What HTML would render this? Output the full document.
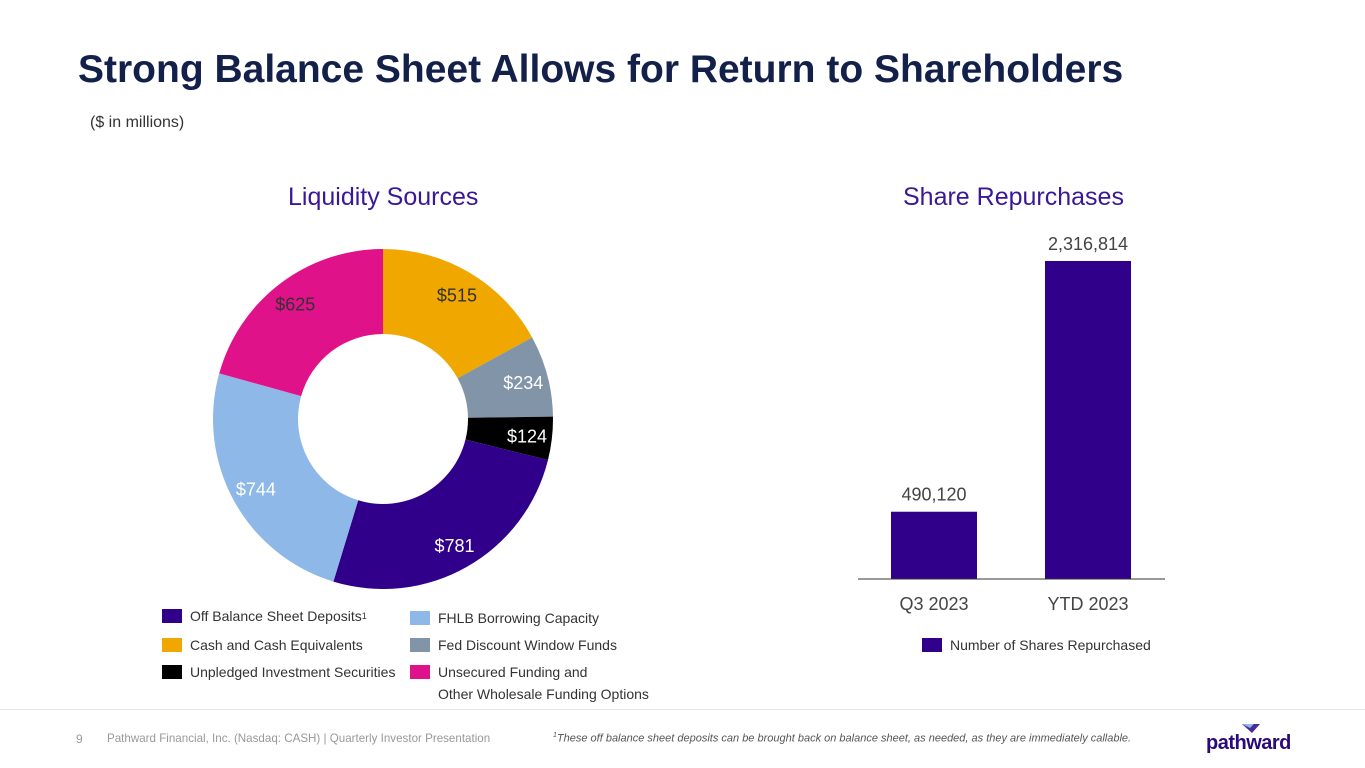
<!DOCTYPE html>
<html><head><meta charset="utf-8"><style>
body{margin:0;width:1365px;height:768px;background:#fff;font-family:"Liberation Sans",sans-serif;overflow:hidden;position:relative}
.a{position:absolute}
.leg{position:absolute;font-size:14px;color:#333;display:flex;align-items:center}
.sw{width:20px;height:14px;margin-right:8px;display:inline-block}
</style></head><body>
<div class="a" style="left:78px;top:48px;font-size:39px;font-weight:bold;color:#13204a">Strong Balance Sheet Allows for Return to Shareholders</div>
<div class="a" style="left:90px;top:114px;font-size:16px;color:#333">($ in millions)</div>
<div class="a" style="left:288px;top:183px;font-size:25px;color:#3a1796">Liquidity Sources</div>
<div class="a" style="left:903px;top:183px;font-size:25px;color:#3a1796">Share Repurchases</div>
<svg class="a" style="left:0;top:0" width="1365" height="768" id="chart"></svg>
<div class="leg" style="left:162px;top:608px"><span class="sw" style="background:#31008a"></span>Off Balance Sheet Deposits<sup style="font-size:9px;vertical-align:6px">1</sup></div>
<div class="leg" style="left:410px;top:610px"><span class="sw" style="background:#8db8e8"></span>FHLB Borrowing Capacity</div>
<div class="leg" style="left:162px;top:637px"><span class="sw" style="background:#f0a800"></span>Cash and Cash Equivalents</div>
<div class="leg" style="left:410px;top:637px"><span class="sw" style="background:#8294a8"></span>Fed Discount Window Funds</div>
<div class="leg" style="left:162px;top:664px"><span class="sw" style="background:#000"></span>Unpledged Investment Securities</div>
<div class="leg" style="left:410px;top:664px;align-items:flex-start"><span class="sw" style="background:#e0128a;margin-top:1px"></span><span style="line-height:22px;margin-top:-3px">Unsecured Funding and<br>Other Wholesale Funding Options</span></div>
<div class="leg" style="left:922px;top:637px"><span class="sw" style="background:#31008a"></span>Number of Shares Repurchased</div>
<div class="a" style="left:0;top:709px;width:1365px;height:1px;background:#e4e4e4"></div>
<div class="a" style="left:76px;top:732px;font-size:12px;color:#999">9</div>
<div class="a" style="left:107px;top:732px;font-size:11.6px;color:#999">Pathward Financial, Inc. (Nasdaq: CASH) | Quarterly Investor Presentation</div>
<div class="a" style="left:553px;top:732px;font-size:11px;color:#555;font-style:italic"><sup style="font-size:7px">1</sup>These off balance sheet deposits can be brought back on balance sheet, as needed, as they are immediately callable.</div>
<div class="a" style="left:1206px;top:732px;font-size:20px;font-weight:bold;color:#2a0a7a;letter-spacing:-0.5px">pathward</div>
<svg class="a" style="left:1240px;top:723px" width="22" height="12"><polygon points="2,1 20,1 12,10" fill="#4a2a9a"/><polygon points="2,1 14,1 10,5" fill="#8db8e8"/></svg>
<script>
const sliceLabels=["$515","$234","$124","$781","$744","$625"];
const sliceValues=[515,234,124,781,744,625];
const sliceColors=["#f0a800","#8294a8","#000000","#31008a","#8db8e8","#e0128a"];
const labelColors=["#333","#fff","#fff","#fff","#fff","#333"];
const barCats=["Q3 2023","YTD 2023"];
const barValues=[490120,2316814];
const ns="http://www.w3.org/2000/svg";
const svg=document.getElementById("chart");
function mk(t,a){const e=document.createElementNS(ns,t);for(const k in a)e.setAttribute(k,a[k]);svg.appendChild(e);return e;}
const cx=383,cy=419,R=170,r=85;
const tot=sliceValues.reduce((a,b)=>a+b,0);
let ang=0;
function pt(a,rad){return [cx+rad*Math.sin(a),cy-rad*Math.cos(a)];}
sliceValues.forEach((v,i)=>{
 const a0=ang,a1=ang+v/tot*2*Math.PI;ang=a1;
 const lg=(a1-a0)>Math.PI?1:0;
 const [x0,y0]=pt(a0,R),[x1,y1]=pt(a1,R),[x2,y2]=pt(a1,r),[x3,y3]=pt(a0,r);
 const p=mk("path",{d:`M${x0},${y0}A${R},${R} 0 ${lg} 1 ${x1},${y1}L${x2},${y2}A${r},${r} 0 ${lg} 0 ${x3},${y3}Z`,fill:sliceColors[i]});
 
 
 const [lx,ly]=pt((a0+a1)/2,145);
 const t=mk("text",{x:lx,y:ly+7,"text-anchor":"middle","font-size":18,fill:labelColors[i]});
 t.textContent=sliceLabels[i];
 
 
});
const base=579,top0=261,maxV=2316814;
const yS=v=>base-(v/maxV)*(base-top0);
const xC=[934,1088],bw=86;
barValues.forEach((v,i)=>{
 const b=mk("rect",{x:xC[i]-bw/2,y:yS(v),width:bw,height:base-yS(v),fill:"#31008a"});
 
 
 const t=mk("text",{x:xC[i],y:yS(v)-11,"text-anchor":"middle","font-size":18,fill:"#444"});
 t.textContent=v.toLocaleString("en-US");
 
 
 const c=mk("text",{x:xC[i],y:610,"text-anchor":"middle","font-size":18,fill:"#444"});
 c.textContent=barCats[i];
 
 
});
const ax=mk("line",{x1:858,x2:1165,y1:base,y2:base,stroke:"#333","stroke-width":1});


</script>
</body></html>
